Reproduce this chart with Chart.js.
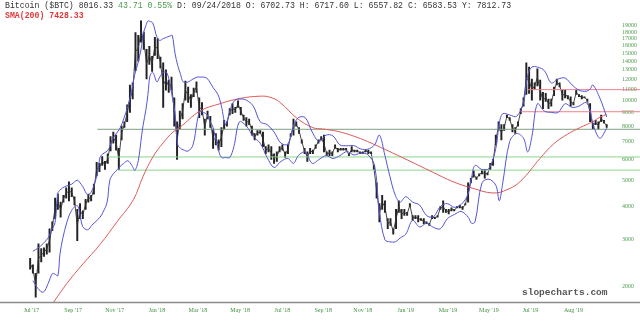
<!DOCTYPE html>
<html>
<head>
<meta charset="utf-8">
<script src="https://cdn.jsdelivr.net/npm/chart.js@4.4.1/dist/chart.umd.min.js"></script>
<style>
  html, body { margin: 0; padding: 0; background: #fff; }
  #wrap { position: relative; width: 640px; height: 321px; overflow: hidden; }
  #grafico { position: absolute; left: 0; top: 0; }
  .cab { position: absolute; left: 5px; font-family: 'Liberation Mono', monospace; font-size: 8.2px; line-height: 9px; white-space: pre; color: #333; }
  .verde { color: #4c9c4c; }
  .sma { color: #e03838; font-weight: bold; }
  #marca { position: absolute; left: 522px; top: 288px; font-family: 'Liberation Mono', monospace; font-weight: bold; font-size: 9.5px; line-height: 10px; color: #555; }
</style>
</head>
<body>
<div id="wrap">
  <canvas id="grafico" width="640" height="321"></canvas>
  <div class="cab" style="top:1px">Bitcoin ($BTC) 8016.33 <span class="verde">43.71 0.55%</span> D: 09/24/2018 O: 6702.73 H: 6717.60 L: 6557.82 C: 6583.53 Y: 7812.73</div>
  <div class="cab sma" style="top:11px">SMA(200) 7428.33</div>
  <div id="marca">slopecharts.com</div>
</div>
<script>
// dias contados a partir de 1 jul 2017; uma barra a cada 4 dias desde 9 jul 2017
const primeiroDia = 8;
const passoDias = 4;
const minimas = [
  2330, 2250, 1830, 2250, 2480, 2600, 2650, 2700, 3250, 3600, 3900, 3650, 4150, 4300, 4200, 4350, 4050, 2980, 3600, 3600,
  3900, 4150, 4200, 4450, 5200, 5400, 5700, 5500, 5800, 6450, 6900, 6500, 5500, 7100, 7900, 8300, 9000, 10100, 12900, 14000,
  16500, 15500, 12000, 13600, 12800, 14700, 14300, 13200, 9400, 10900, 10700, 10900, 8000, 6000, 7800, 8500, 10000, 9800, 9400, 10300,
  10700, 8600, 8800, 7400, 8500, 7900, 6600, 6800, 6500, 6700, 7800, 8000, 8800, 8900, 9000, 9400, 8800, 8400, 8000, 8100,
  7400, 7100, 7400, 7500, 6700, 6300, 6400, 6000, 5800, 5900, 6400, 6500, 6100, 6300, 7300, 7400, 8000, 7500, 6900, 6300,
  5900, 6300, 6300, 6600, 6900, 7100, 6400, 6200, 6200, 6200, 6600, 6400, 6500, 6500, 6500, 6200, 6400, 6400, 6400, 6300,
  6300, 6400, 6300, 6300, 5500, 4300, 3500, 3900, 3800, 3300, 3400, 3150, 3300, 3800, 3600, 3700, 3700, 4000, 3550, 3600,
  3500, 3550, 3450, 3450, 3400, 3600, 3600, 3650, 3900, 3800, 3800, 3750, 3850, 3850, 3950, 3950, 3900, 4050, 4150, 4900,
  5150, 5050, 5200, 5300, 5100, 5250, 5500, 5700, 6800, 7700, 7100, 7700, 8600, 8400, 7600, 7500, 8000, 8900, 9500, 10500,
  10600, 10000, 11000, 11300, 10000, 9300, 9900, 9300, 9500, 10400, 11400, 11200, 10000, 10200, 10100, 9500, 9600, 10500, 10300, 10100,
  10200, 9900, 8300, 7800, 8100, 7800, 8300, 8200, 7900
];
const maximas = [
  2560, 2420, 2250, 2900, 2780, 2800, 2900, 3300, 3500, 4300, 4450, 4150, 4400, 4700, 4950, 4700, 4350, 3900, 4100, 3850,
  4250, 4450, 4400, 4850, 5850, 5800, 6150, 5900, 6300, 7300, 7600, 7400, 6600, 8000, 8300, 9600, 11400, 11600, 17900, 17500,
  19800, 18000, 15500, 15900, 14600, 17200, 17000, 14500, 13800, 13000, 11900, 12200, 10200, 8300, 9100, 9700, 11800, 11200, 10500, 11100,
  11700, 10200, 9800, 8500, 9100, 8700, 7800, 7500, 7100, 7900, 8400, 8300, 9300, 9700, 9400, 9950, 9400, 8800, 8600, 8500,
  8000, 7500, 7700, 7700, 7600, 6700, 6800, 6700, 6300, 6400, 6700, 6800, 6400, 6800, 7500, 8500, 8300, 7900, 7100, 6600,
  6400, 6600, 6500, 6800, 7100, 7300, 7400, 6400, 6500, 6400, 6800, 6600, 6600, 6600, 6600, 6300, 6700, 6500, 6500, 6400,
  6400, 6500, 6500, 6400, 5700, 4900, 4100, 4400, 4200, 3600, 3600, 3300, 3900, 4200, 3900, 3900, 3800, 4100, 3700, 3700,
  3700, 3600, 3600, 3500, 3450, 3700, 3650, 3700, 4000, 4200, 3900, 3900, 3950, 3900, 4000, 4050, 4000, 4100, 4900, 5100,
  5450, 5150, 5300, 5450, 5500, 5350, 5800, 6000, 7400, 8300, 8100, 8100, 8800, 8600, 8100, 7900, 8300, 9300, 10200, 13800,
  13300, 12000, 11600, 13100, 11900, 10700, 10600, 10100, 10100, 11200, 12000, 11600, 10900, 10900, 10400, 10300, 9800, 10900, 10500, 10400,
  10300, 10100, 9700, 8200, 8400, 8300, 8800, 8400, 8100
];

// bandas de Bollinger
const diasBanda = [12, 19, 27, 34, 40, 44, 48, 51, 55, 61, 68, 76, 80, 84, 91, 97, 105, 109, 113, 119, 123, 128, 134, 138, 143, 149, 155, 159, 164, 169, 171, 175, 178, 181, 185, 191, 195, 200, 205, 210, 213, 217, 221, 225, 229, 236, 243, 249, 253, 258, 263, 268, 272, 279, 284, 290, 296, 302, 310, 320, 330, 340, 350, 360, 370, 380, 388, 395, 405, 415, 425, 435, 445, 455, 465, 475, 485, 495, 505, 512, 520, 527, 535, 542, 550, 560, 570, 580, 590, 600, 610, 620, 630, 640, 645, 650, 660, 670, 680, 685, 690, 700, 710, 720, 726, 732, 740, 750, 760, 770, 780, 790, 800, 810, 816, 820, 830, 840];
const bandaSuperior = [2720, 2790, 2910, 3050, 3300, 3490, 4500, 4600, 4700, 4780, 4850, 5020, 4900, 4750, 4420, 4570, 5310, 6120, 6300, 6440, 6700, 7240, 7600, 7880, 8500, 9500, 11000, 12500, 13880, 16000, 17640, 19000, 19800, 19700, 19450, 17200, 16740, 17000, 17200, 17400, 17490, 15000, 13480, 12500, 11700, 11700, 12000, 12200, 12200, 12200, 12100, 11600, 11150, 10500, 9500, 8100, 9100, 9900, 10100, 10000, 9500, 8300, 8100, 7600, 6900, 6850, 8000, 8600, 8600, 7600, 7000, 7400, 7350, 6800, 6750, 6760, 6570, 6550, 6800, 7400, 6200, 5200, 4400, 4150, 4350, 4150, 4050, 3700, 3660, 4000, 4100, 3970, 4070, 4450, 5140, 5700, 5500, 5550, 6600, 8200, 8900, 8800, 8700, 9800, 12400, 13300, 13300, 12900, 11600, 12000, 12100, 11400, 10900, 10800, 11000, 11400, 10200, 8650];
const bandaInferior = [2110, 1975, 1910, 2060, 2240, 2230, 2200, 2650, 3030, 3490, 3870, 4030, 3710, 3360, 3270, 3400, 3560, 3650, 3800, 4140, 5020, 5300, 5500, 5650, 5800, 5930, 5690, 5460, 5930, 7420, 8060, 9200, 10500, 12350, 12700, 11700, 12200, 12700, 12700, 11400, 10300, 9000, 6800, 6600, 6520, 6450, 6800, 8310, 9060, 9000, 8830, 8300, 7900, 6620, 6100, 6100, 6100, 6700, 8300, 8000, 7300, 6900, 6100, 5600, 5900, 6050, 5800, 6200, 6400, 5800, 6000, 6200, 6050, 6200, 6420, 6240, 6330, 6260, 5700, 3800, 3000, 2950, 2950, 3050, 3150, 3550, 3350, 3460, 3340, 3300, 3600, 3730, 3830, 3650, 3460, 3500, 4900, 5060, 4800, 4200, 4900, 7000, 7500, 7200, 6400, 7300, 9700, 9100, 9000, 9000, 9700, 9400, 9500, 9800, 9200, 8200, 7200, 7850];

// media movel de 200 dias
const diasSma = [35, 61, 84, 109, 133, 157, 171, 185, 200, 214, 224, 253, 282, 311, 340, 354, 368, 393, 416, 430, 451, 474, 495, 523, 552, 589, 618, 647, 676, 696, 715, 744, 763, 783, 802, 820, 830, 840];
const valoresSma = [1650, 2060, 2434, 2885, 3495, 4242, 5187, 6122, 6927, 7594, 7905, 9100, 9700, 10150, 10350, 10260, 9840, 8556, 7893, 7800, 7650, 7350, 7000, 6489, 5979, 5376, 4954, 4677, 4492, 4620, 4954, 6060, 6842, 7447, 7905, 8310, 8627, 8845];

// linhas horizontais de suporte / resistencia
const niveis = [7780, 6130, 5470, 10950, 9050];
const inicioNiveis = [105, 120, 135, 726, 716];

const diasRotulo = [10, 70, 130, 191, 250, 311, 372, 431, 488, 550, 611, 670, 730, 792];
const rotulos = ["Jul '17", "Sep '17", "Nov '17", "Jan '18", "Mar '18", "May '18", "Jul '18", "Sep '18", "Nov '18", "Jan '19", "Mar '19", "May '19", "Jul '19", "Aug '19"];
const ticksY = [2000, 3000, 4000, 5000, 6000, 7000, 8000, 9000, 10000, 11000, 12000, 13000, 14000, 15000, 16000, 17000, 18000, 19000];

const barras = minimas.map((lo, i) => ({ x: primeiroDia + i * passoDias, y: [lo, maximas[i]] }));
// traco que liga as barras (meio de cada faixa, em escala log)
const meio = minimas.map((lo, i) => ({ x: primeiroDia + i * passoDias, y: Math.sqrt(lo * maximas[i]) }));
const pontos = (dias, vals) => dias.map((d, i) => ({ x: d, y: vals[i] }));

const coresNiveis = ['#809e80', '#8cd68c', '#8cd68c', '#f0808c', '#f0808c'];
const linhasNiveis = niveis.map((v, i) => ({
  type: 'line',
  data: [{ x: inicioNiveis[i], y: v }, { x: 1000, y: v }],
  borderColor: coresNiveis[i],
  borderWidth: 1,
  pointRadius: 0,
  clip: false,
  order: 3
}));

const linhaBase = {
  id: 'linhaBase',
  afterDraw(chart) {
    const c = chart.ctx;
    const y = chart.chartArea.bottom + 0.5;
    c.save();
    c.strokeStyle = '#8c8c8c';
    c.lineWidth = 1.5;
    c.beginPath();
    c.moveTo(0, y);
    c.lineTo(chart.width, y);
    c.stroke();
    c.restore();
  }
};

new Chart(document.getElementById('grafico'), {
  type: 'bar',
  data: {
    datasets: [
      {
        type: 'bar',
        data: barras,
        backgroundColor: '#222',
        borderWidth: 0,
        barThickness: 1.3,
        grouped: false,
        order: 10
      },
      {
        type: 'line',
        data: meio,
        borderColor: '#333',
        borderWidth: 0.9,
        pointRadius: 0,
        order: 9
      },
      ...linhasNiveis,
      {
        type: 'line',
        data: pontos(diasSma, valoresSma),
        borderColor: '#e05a5a',
        borderWidth: 1,
        pointRadius: 0,
        tension: 0.4,
        order: 2
      },
      {
        type: 'line',
        data: pontos(diasBanda, bandaSuperior),
        borderColor: '#5454d6',
        borderWidth: 1,
        pointRadius: 0,
        tension: 0.35,
        order: 1
      },
      {
        type: 'line',
        data: pontos(diasBanda, bandaInferior),
        borderColor: '#5454d6',
        borderWidth: 1,
        pointRadius: 0,
        tension: 0.35,
        order: 1
      }
    ]
  },
  options: {
    responsive: false,
    animation: false,
    events: [],
    layout: { padding: 0 },
    plugins: { legend: { display: false }, tooltip: { enabled: false } },
    scales: {
      x: {
        type: 'linear',
        min: -35.5,
        max: 856.3,
        offset: false,
        grid: { display: false, drawTicks: false, offset: false },
        border: { display: false },
        afterFit: (s) => { s.height = 19; },
        afterBuildTicks: (s) => { s.ticks = diasRotulo.map(v => ({ value: v })); },
        ticks: {
          autoSkip: false,
          maxRotation: 0,
          padding: 5,
          color: '#3f8f3f',
          font: { family: 'Liberation Serif', size: 6 },
          callback: (v) => rotulos[diasRotulo.indexOf(v)]
        }
      },
      y: {
        type: 'logarithmic',
        position: 'right',
        min: 1755.5,
        max: 22210,
        grid: { display: false, drawTicks: false },
        border: { display: false },
        afterFit: (s) => { s.width = 22; },
        afterBuildTicks: (s) => { s.ticks = ticksY.map(v => ({ value: v })); },
        ticks: {
          padding: 4,
          color: '#4c9c4c',
          font: { family: 'Liberation Serif', size: 6 },
          callback: (v) => String(v)
        }
      }
    }
  },
  plugins: [linhaBase]
});
</script>
</body>
</html>
